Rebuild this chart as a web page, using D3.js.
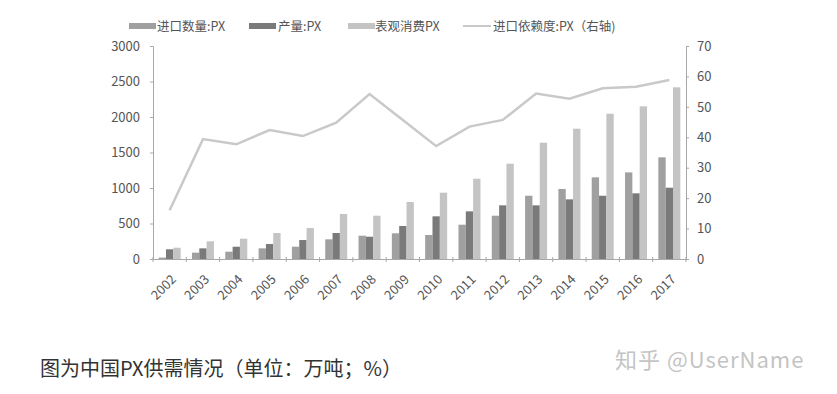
<!DOCTYPE html>
<html>
<head>
<meta charset="utf-8">
<script src="https://cdn.jsdelivr.net/npm/d3@7"></script>
<style>
  body { margin: 0; background: #fff; }
  text { font-family: "Noto Sans CJK SC", "Noto Sans", sans-serif; }
</style>
</head>
<body>
<div id="charts"></div>
<script>
const years = ['2002','2003','2004','2005','2006','2007','2008','2009','2010','2011','2012','2013','2014','2015','2016','2017'];
const importQty = [20, 89, 103, 150, 173, 277, 328, 362, 338, 483, 610, 891, 986, 1150, 1220, 1432];
const production = [137, 150, 173, 211, 267, 366, 314, 465, 601, 671, 756, 756, 840, 891, 925, 1004];
const consumption = [159, 249, 286, 366, 436, 634, 610, 803, 934, 1131, 1342, 1638, 1835, 2046, 2150, 2418];
const dependency = [16, 39.4, 37.7, 42.4, 40.4, 44.8, 54.2, 45.7, 37.1, 43.5, 45.7, 54.4, 52.7, 56.1, 56.6, 58.8];
const leftTicks = [0, 500, 1000, 1500, 2000, 2500, 3000];
const rightTicks = [0, 10, 20, 30, 40, 50, 60, 70];

const keys = ['importQty', 'production', 'consumption'];
const labels = { importQty: '进口数量:PX', production: '产量:PX', consumption: '表观消费PX' };
const colors = { importQty: '#a0a0a0', production: '#7a7a7a', consumption: '#c4c4c4' };
const lineColor = '#c9c9c9';

const data = years.map((y, i) => ({
  year: y, importQty: importQty[i], production: production[i], consumption: consumption[i], dependency: dependency[i]
}));

const W = 837, H = 394;
const margin = { top: 46, left: 153, right: 151, bottom: 135 };
const width = W - margin.left - margin.right;
const height = H - margin.top - margin.bottom;

const svg = d3.select('#charts').append('svg')
  .attr('width', W).attr('height', H);
const g = svg.append('g').attr('transform', `translate(${margin.left},${margin.top})`);

const x = d3.scaleBand().domain(years).range([0, width]).paddingInner(0).paddingOuter(0);
const xi = d3.scaleBand().domain(keys).range([x.bandwidth() * 0.17, x.bandwidth() * 0.83]);
const yL = d3.scaleLinear().domain([0, 3000]).range([height, 0]);
const yR = d3.scaleLinear().domain([0, 70]).range([height, 0]);

// bars
g.selectAll('.grp').data(data).enter().append('g')
  .attr('transform', d => `translate(${x(d.year)},0)`)
  .selectAll('rect')
  .data(d => keys.map(k => ({ key: k, value: d[k] })))
  .enter().append('rect')
  .attr('x', d => xi(d.key))
  .attr('width', xi.bandwidth())
  .attr('y', d => yL(d.value))
  .attr('height', d => height - yL(d.value))
  .attr('fill', d => colors[d.key]);

// line
const line = d3.line()
  .x(d => x(d.year) + x.bandwidth() / 2)
  .y(d => yR(d.dependency));
g.append('path').datum(data)
  .attr('d', line)
  .attr('fill', 'none')
  .attr('stroke', lineColor)
  .attr('stroke-width', 2.5);

// axes
const axisColor = '#a8a8a8';
const textColor = '#555';

const leftAxis = g.append('g')
  .call(d3.axisLeft(yL).tickValues(leftTicks).tickFormat(d3.format('d')).tickSize(3).tickPadding(10));
const rightAxis = g.append('g')
  .attr('transform', `translate(${width},0)`)
  .call(d3.axisRight(yR).tickValues(rightTicks).tickSize(3).tickPadding(8));
const bottomAxis = g.append('g')
  .attr('transform', `translate(0,${height})`)
  .call(d3.axisBottom(x).tickSize(0).tickPadding(0));

// category boundary ticks
g.append('g').selectAll('line')
  .data(years.concat(['end']))
  .enter().append('line')
  .attr('x1', (d, i) => i * x.bandwidth())
  .attr('x2', (d, i) => i * x.bandwidth())
  .attr('y1', height - 2)
  .attr('y2', height + 3)
  .attr('stroke', axisColor);

[leftAxis, rightAxis, bottomAxis].forEach(a => {
  a.selectAll('path, line').attr('stroke', axisColor);
  a.selectAll('text').attr('fill', textColor).style('font-size', '13px');
});

bottomAxis.selectAll('text')
  .attr('text-anchor', 'end')
  .attr('y', 0)
  .attr('dy', '0.35em')
  .attr('transform', 'translate(4,18) rotate(-45)');

// legend
const legend = svg.append('g');
const legendItems = [
  { key: 'importQty', x: 129, tx: 157 },
  { key: 'production', x: 249, tx: 278 },
  { key: 'consumption', x: 348, tx: 375 }
];
legendItems.forEach(it => {
  legend.append('rect')
    .attr('x', it.x).attr('y', 23).attr('width', 27).attr('height', 6)
    .attr('fill', colors[it.key]);
  legend.append('text')
    .attr('x', it.tx).attr('y', 30.5)
    .text(labels[it.key])
    .attr('fill', textColor).style('font-size', '12.5px');
});
legend.append('line')
  .attr('x1', 463).attr('x2', 491).attr('y1', 26).attr('y2', 26)
  .attr('stroke', lineColor).attr('stroke-width', 2);
legend.append('text')
  .attr('x', 493).attr('y', 30.5)
  .text('进口依赖度:PX（右轴)')
  .attr('fill', textColor).style('font-size', '12.5px');

// caption
svg.append('text')
  .attr('x', 40).attr('y', 376)
  .text('图为中国PX供需情况（单位：万吨；%）')
  .attr('fill', '#333').style('font-size', '20px');

svg.append('text')
  .attr('x', 615).attr('y', 368)
  .text('知乎 @UserName')
  .attr('fill', '#c4c4c4').style('font-size', '22px').style('letter-spacing', '1px');
</script>
</body>
</html>
